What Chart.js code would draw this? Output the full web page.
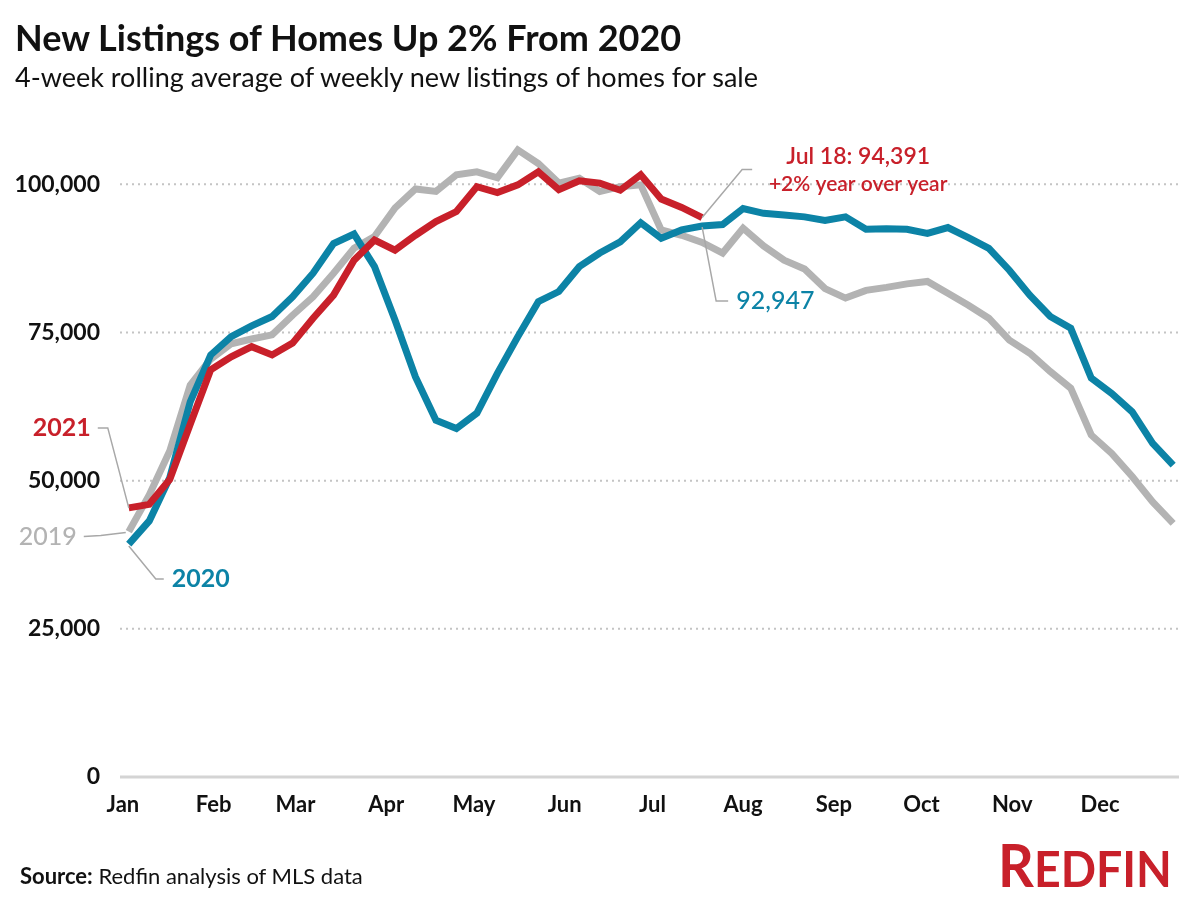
<!DOCTYPE html>
<html>
<head>
<meta charset="utf-8">
<script src="https://cdn.jsdelivr.net/npm/chart.js@4.4.1/dist/chart.umd.min.js"></script>
<style>
  body { margin: 0; background: #fff; }
  #wrap { position: relative; width: 1200px; height: 900px; font-family: Lato, "Open Sans", sans-serif; color: #111; }
  #chart { position: absolute; left: 0; top: 0; }
  .title { position: absolute; left: 15px; top: 19px; font-size: 36px; font-weight: bold; line-height: 1; white-space: nowrap; }
  .subtitle { position: absolute; left: 15px; top: 63px; font-size: 27px; line-height: 1; white-space: nowrap; }
  .source { position: absolute; left: 20px; top: 865px; font-size: 22px; line-height: 1; white-space: nowrap; }
  .source b { font-weight: bold; }
  .logo { position: absolute; left: 998px; top: 834px; color: #c8202a; font-weight: bold; font-size: 50px; line-height: 1; white-space: nowrap; transform: scaleX(0.93); transform-origin: left top; }
  .logo span { font-size: 60px; }
</style>
</head>
<body>
<div id="wrap">
  <canvas id="chart" width="1200" height="900"></canvas>
  <div class="title">New Listings of Homes Up 2% From 2020</div>
  <div class="subtitle">4-week rolling average of weekly new listings of homes for sale</div>
  <div class="source"><b>Source:</b> Redfin analysis of MLS data</div>
  <div class="logo"><span>R</span>EDFIN</div>
</div>
<script>
// day of year (0 = Jan 1) for each weekly point
const weekDays = [2, 9, 16, 23, 30, 37, 44, 51, 58, 65, 72, 79, 86, 93, 100, 107, 114, 121, 128, 135,
  142, 149, 156, 163, 170, 177, 184, 191, 198, 205, 212, 219, 226, 233, 240, 247, 254, 261, 268, 275,
  282, 289, 296, 303, 310, 317, 324, 331, 338, 345, 352, 359];

const monthDays = [0, 31, 59, 90, 120, 151, 181, 212, 243, 273, 304, 334];
const monthLabels = ["Jan", "Feb", "Mar", "Apr", "May", "Jun", "Jul", "Aug", "Sep", "Oct", "Nov", "Dec"];
const yTicks = [0, 25000, 50000, 75000, 100000];

const listings2021 = [45400, 46000, 50200, 59500, 68700, 70900, 72600, 71200, 73200, 77400,
  81300, 87200, 90600, 88900, 91400, 93700, 95400, 99600, 98600, 99900,
  102100, 99100, 100600, 100200, 99000, 101600, 97500, 96100, 94391];

const listings2020 = [39300, 43200, 50500, 63300, 71200, 74300, 76100, 77700, 81000, 85000,
  90000, 91600, 86100, 77100, 67500, 60200, 58800, 61400, 68100, 74300,
  80200, 81900, 86100, 88400, 90300, 93500, 90900, 92300, 92947, 93200,
  95900, 95100, 94800, 94500, 93900, 94500, 92400, 92500, 92400, 91700,
  92700, 91000, 89200, 85500, 81300, 77700, 75700, 67300, 64700, 61600,
  56300, 52600];

const listings2019 = [41400, 47600, 55000, 66100, 70500, 73100, 73900, 74600, 77900, 81000,
  85000, 89200, 91200, 96000, 99200, 98800, 101600, 102100, 101100, 105800,
  103500, 100200, 101000, 98800, 99600, 99900, 92300, 91400, 90200, 88400,
  92600, 89600, 87200, 85700, 82400, 80800, 82100, 82600, 83200, 83600,
  81600, 79600, 77400, 73700, 71500, 68400, 65600, 57700, 54600, 50700,
  46400, 42800];

const red = "#c8202a";
const blue = "#0c83a6";
const grey = "#b3b3b3";

function toPoints(vals) {
  return vals.map((v, i) => ({ x: weekDays[i], y: v }));
}

const gridLines = {
  id: "gridLines",
  beforeDatasetsDraw(chart) {
    const { ctx, chartArea, scales } = chart;
    ctx.save();
    yTicks.forEach(v => {
      const y = scales.y.getPixelForValue(v);
      ctx.beginPath();
      if (v === 0) {
        ctx.setLineDash([]);
        ctx.strokeStyle = "#d4d4d4";
        ctx.lineWidth = 3;
      } else {
        ctx.setLineDash([2, 4]);
        ctx.strokeStyle = "#c4c4c4";
        ctx.lineWidth = 2;
      }
      ctx.moveTo(chartArea.left, y);
      ctx.lineTo(chartArea.right, y);
      ctx.stroke();
    });
    ctx.restore();
  }
};

const labels = {
  id: "labels",
  afterDatasetsDraw(chart) {
    const { ctx, scales } = chart;
    const px = (d, v) => [scales.x.getPixelForValue(d), scales.y.getPixelForValue(v)];
    const last = listings2021.length - 1;
    const r0 = px(weekDays[0], listings2021[0]);
    const b0 = px(weekDays[0], listings2020[0]);
    const g0 = px(weekDays[0], listings2019[0]);
    const rEnd = px(weekDays[last], listings2021[last]);
    const bEnd = px(weekDays[last], listings2020[last]);

    function leader(pts) {
      ctx.beginPath();
      ctx.moveTo(pts[0][0], pts[0][1]);
      for (let i = 1; i < pts.length; i++) ctx.lineTo(pts[i][0], pts[i][1]);
      ctx.stroke();
    }
    function text(str, x, y, color, font, align) {
      ctx.fillStyle = color;
      ctx.font = font;
      ctx.textAlign = align;
      ctx.textBaseline = "middle";
      ctx.fillText(str, x, y);
    }

    ctx.save();
    ctx.strokeStyle = "#a8a8a8";
    ctx.lineWidth = 1.5;
    leader([[r0[0] - 31, r0[1] - 80], [r0[0] - 21, r0[1] - 80], r0]);
    leader([[g0[0] - 45, g0[1] + 5], [g0[0] - 28, g0[1] + 4], [g0[0] - 3, g0[1] + 1]]);
    leader([[b0[0], b0[1] + 2], [b0[0] + 27, b0[1] + 35], [b0[0] + 35, b0[1] + 35]]);
    leader([rEnd, [rEnd[0] + 40, rEnd[1] - 48], [rEnd[0] + 50, rEnd[1] - 48]]);
    leader([[bEnd[0], bEnd[1] + 1], [bEnd[0] + 14, bEnd[1] + 75], [bEnd[0] + 26, bEnd[1] + 75]]);

    text("2021", r0[0] - 38, r0[1] - 80, red, "bold 25px Lato", "right");
    text("2019", g0[0] - 52, g0[1] + 5, grey, "500 25px Lato", "right");
    text("2020", b0[0] + 43, b0[1] + 35, blue, "bold 25px Lato", "left");
    text("Jul 18: 94,391", rEnd[0] + 156, rEnd[1] - 61, red, "600 23px Lato", "center");
    text("+2% year over year", rEnd[0] + 156, rEnd[1] - 33, red, "600 21px Lato", "center");
    text("92,947", bEnd[0] + 34, bEnd[1] + 75, blue, "500 25px Lato", "left");
    ctx.restore();
  }
};

const lineStyle = { borderWidth: 7, pointRadius: 0, fill: false, tension: 0, borderJoinStyle: "miter" };

new Chart(document.getElementById("chart"), {
  type: "line",
  data: {
    datasets: [
      { label: "2021", data: toPoints(listings2021), borderColor: red, ...lineStyle },
      { label: "2020", data: toPoints(listings2020), borderColor: blue, ...lineStyle },
      { label: "2019", data: toPoints(listings2019), borderColor: grey, ...lineStyle }
    ]
  },
  options: {
    responsive: false,
    animation: false,
    events: [],
    layout: { padding: { top: 125, right: 21, bottom: 63, left: 0 } },
    plugins: { legend: { display: false }, tooltip: { enabled: false }, title: { display: false } },
    scales: {
      x: {
        type: "linear",
        min: -1,
        max: 361,
        afterBuildTicks: s => { s.ticks = monthDays.map(v => ({ value: v })); },
        afterFit: s => { s.height = 60; },
        grid: { display: false, drawTicks: false },
        border: { display: false },
        ticks: {
          autoSkip: false,
          maxRotation: 0,
          padding: 15,
          color: "#111",
          font: { family: "Lato", size: 22, weight: "bold" },
          callback: (v, i) => monthLabels[i]
        }
      },
      y: {
        min: 0,
        max: 110000,
        afterBuildTicks: s => { s.ticks = yTicks.map(v => ({ value: v })); },
        afterFit: s => { s.width = 120; },
        grid: { display: false, drawTicks: false },
        border: { display: false },
        ticks: {
          padding: 20,
          color: "#111",
          font: { family: "Lato", size: 23, weight: "bold" },
          callback: v => v.toLocaleString("en-US")
        }
      }
    }
  },
  plugins: [gridLines, labels]
});
</script>
</body>
</html>
